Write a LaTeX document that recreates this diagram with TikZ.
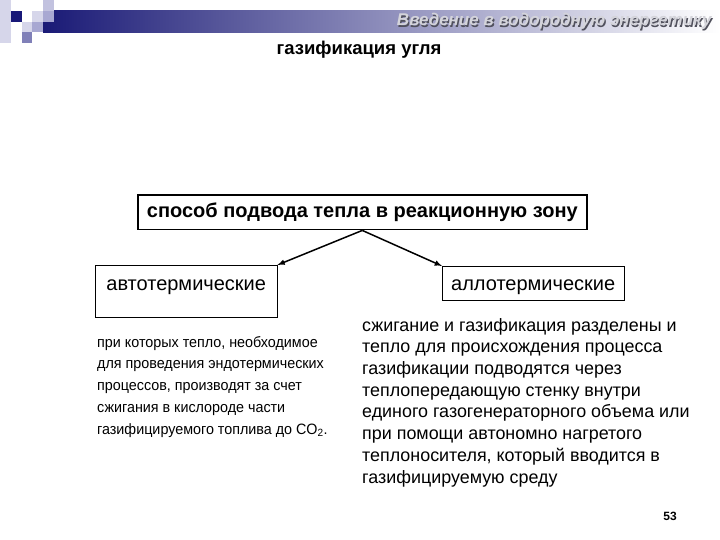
\documentclass[tikz,border=0pt]{standalone}
\usepackage{fontspec}
\setmainfont{Liberation Sans}
\usepackage{tikz}
\usetikzlibrary{arrows}
\definecolor{navy}{RGB}{26,26,118}
\definecolor{sqdark}{RGB}{24,24,120}
\definecolor{sqmid}{RGB}{128,128,184}
\definecolor{sqlight}{RGB}{168,168,210}
\definecolor{sqpale}{RGB}{214,214,234}
\definecolor{hdtext}{RGB}{212,212,218}
\definecolor{hdedge}{RGB}{80,80,92}
\tikzset{
  box/.style={draw, anchor=north west, inner xsep=9pt, inner ysep=8pt, font=\fontsize{20}{23}\selectfont},
  para/.style={anchor=north west, align=left, inner sep=0pt},
}

\begin{document}
\begin{tikzpicture}[x=1pt, y=-1pt]
  \useasboundingbox (0,0) rectangle (720,540);
  % header
  \shade [left color=navy, right color=white] (43,10.8) rectangle (720,32.4);
  \fill [sqpale] (0,0) rectangle (10.8,43.2);
  \fill [sqdark] (10.8,10.8) rectangle (21.6,21.6);
  \fill [sqpale] (21.6,21.6) rectangle (32.4,32.4);
  \fill [sqmid] (21.6,32.4) rectangle (32.4,43.2);
  \fill [sqpale] (32.4,10.8) rectangle (43.2,21.6);
  \fill [sqlight] (32.4,21.6) rectangle (43.2,32.4);
  \fill [sqlight!70] (43.2,0) rectangle (54,10.8);
  \fill [sqlight] (43.2,10.8) rectangle (54,21.6);
  \node [hdedge, anchor=base east, font=\fontsize{17}{22}\selectfont\bfseries\itshape] (HS) at (716.2,27.2) {Введение в водородную энергетику};
  \node [hdtext, anchor=base east, font=\fontsize{17}{22}\selectfont\bfseries\itshape] (HD) at (715,26) {Введение в водородную энергетику};
  % title
  \node [font=\fontsize{18.5}{22}\selectfont\bfseries] (TI) at (359,50) {газификация угля};
  % boxes
  \node [box, line width=1.6pt, font=\fontsize{20}{23}\selectfont\bfseries, inner xsep=4pt, minimum width=449pt, minimum height=33pt] (MB) at (137,194) {способ подвода тепла в реакционную зону};
  \node [box, minimum width=182pt, text height=17pt, text depth=19pt] (LA) at (95,265) {автотермические};
  \node [box, inner xsep=8pt, minimum width=182pt, text height=16pt, text depth=2pt] (RA) at (442,266) {аллотермические};
  \draw [line width=1.5pt,-latex] (MB.south) -- (LA.north east);
  \draw [line width=1.5pt,-latex] (MB.south) -- (RA.north west);
  % texts
  \node [para, font=\fontsize{15}{21.7}\selectfont\addfontfeatures{FakeStretch=0.955}] (LB) at (97,336) {при которых тепло, необходимое\\для проведения эндотермических\\процессов, производят за счет\\сжигания в кислороде части\\газифицируемого топлива до CO\textsubscript{2}.};
  \node [para, font=\fontsize{17.9}{21.7}\selectfont] (RB) at (362,318) {сжигание и газификация разделены и\\тепло для происхождения процесса\\газификации подводятся через\\теплопередающую стенку внутри\\единого газогенераторного объема или\\при помощи автономно нагретого\\теплоносителя, который вводится в\\газифицируемую среду};
  \node [font=\fontsize{12}{14}\selectfont\bfseries] (PG) at (670,516) {53};
\end{tikzpicture}
\end{document}
